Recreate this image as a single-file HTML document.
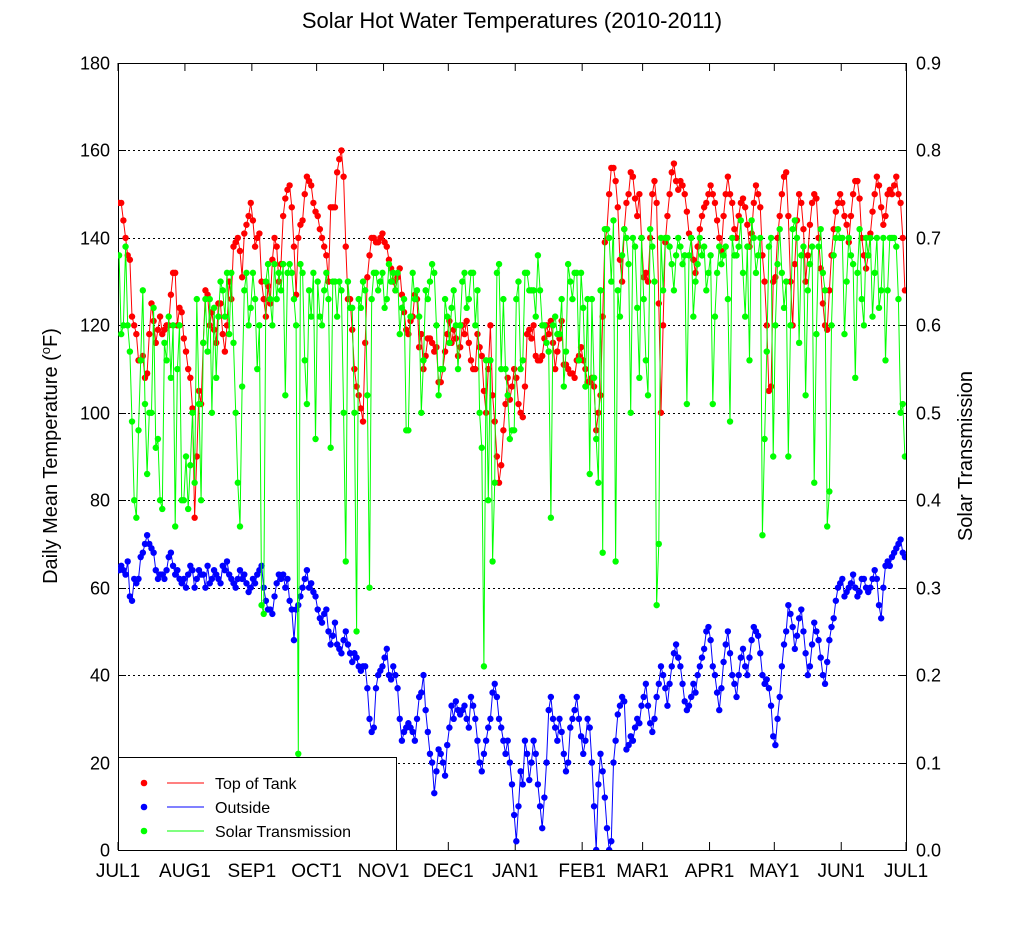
<!DOCTYPE html>
<html><head><meta charset="utf-8"><style>
body{margin:0;background:#fff;}
svg{display:block;font-family:"Liberation Sans",sans-serif;}
</style></head><body>
<svg id="chart" width="1024" height="930" viewBox="0 0 1024 930" xmlns="http://www.w3.org/2000/svg">
<rect width="1024" height="930" fill="#fff"/>
<text x="512" y="28" font-size="22" text-anchor="middle">Solar Hot Water Temperatures (2010-2011)</text>
<g id="grid"></g>
<g id="axes"></g>
<g id="series"></g>
<text transform="translate(57,456) rotate(-90)" font-size="20" text-anchor="middle">Daily Mean Temperature (<tspan font-size="13" dy="-7">o</tspan><tspan dy="7">F)</tspan></text>
<text transform="translate(972,456) rotate(-90)" font-size="20" text-anchor="middle">Solar Transmission</text>
<g>
<rect x="118.5" y="757.5" width="278" height="93" fill="#fff" stroke="#000"/>
<circle cx="144" cy="783" r="3.3" fill="#f00"/><line x1="167" y1="783" x2="204" y2="783" stroke="#f00"/>
<text x="215" y="789" font-size="16">Top of Tank</text>
<circle cx="144" cy="807" r="3.3" fill="#00f"/><line x1="167" y1="807" x2="204" y2="807" stroke="#00f"/>
<text x="215" y="813" font-size="16">Outside</text>
<circle cx="144" cy="831" r="3.3" fill="#0f0"/><line x1="167" y1="831" x2="204" y2="831" stroke="#0f0"/>
<text x="215" y="837" font-size="16">Solar Transmission</text>
</g>
</svg>
<script>
const yTicks=[0,20,40,60,80,100,120,140,160,180];
const y2Ticks=["0.0","0.1","0.2","0.3","0.4","0.5","0.6","0.7","0.8","0.9"];
const monthLabels=["JUL1","AUG1","SEP1","OCT1","NOV1","DEC1","JAN1","FEB1","MAR1","APR1","MAY1","JUN1","JUL1"];
const monthDays=[0,31,62,92,123,153,184,215,243,274,304,335,365];
const tank=[148,148,144,140,136,135,122,120,118,112,112,113,108,109,118,125,121,116,119,122,118,119,120,120,127,132,132,120,124,123,117,
114,110,108,101,76,90,105,102,116,128,127,120,123,119,116,125,125,118,114,120,130,126,138,139,140,137,131,141,143,145,148,
144,138,140,141,130,126,122,129,125,135,140,138,130,134,145,149,151,152,147,138,127,140,143,144,150,154,153,152,148,146,
145,142,140,138,136,130,147,147,147,155,158,160,154,138,126,126,119,110,106,104,101,98,116,131,136,140,140,139,139,140,141,
139,138,135,133,130,128,131,133,127,123,119,118,121,122,127,126,115,118,110,113,117,117,116,114,115,107,107,110,114,118,
121,116,119,117,113,115,120,118,121,116,112,110,110,118,115,113,105,100,110,120,104,98,90,84,88,96,102,108,103,106,110,
108,102,100,99,106,118,119,117,120,113,112,112,113,117,120,118,121,116,110,114,117,121,111,111,110,109,109,108,112,113,115,
112,110,107,107,108,106,96,100,104,122,139,142,150,156,156,153,147,135,130,142,148,150,155,154,149,145,150,140,
131,132,130,140,150,153,148,125,100,120,139,145,150,155,157,153,151,153,152,150,146,141,140,135,132,138,142,145,147,148,150,
152,150,148,144,140,137,145,150,154,150,148,142,140,145,148,149,147,143,138,141,148,152,150,147,136,130,120,105,106,130,
131,140,145,150,154,155,145,130,120,134,144,150,148,142,130,136,143,148,150,149,140,133,125,120,119,128,136,142,146,148,150,
148,145,143,139,145,150,153,153,149,140,136,133,136,141,146,150,154,152,147,143,145,150,151,150,152,154,150,148,140,128];
const outside=[64,65,64,63,66,58,57,62,61,62,67,68,70,72,70,69,68,64,62,63,63,62,64,67,68,65,63,64,62,61,62,
60,63,65,64,60,62,64,63,63,60,65,61,62,64,63,62,61,65,64,66,63,62,61,60,62,64,62,63,61,59,60,
62,61,63,64,65,60,57,55,55,54,58,61,63,62,63,60,62,57,55,48,55,56,58,60,62,64,60,61,59,58,
55,53,52,54,55,50,47,49,52,47,46,45,48,50,47,45,43,45,44,42,41,42,42,37,30,27,28,37,40,41,42,
44,46,40,39,42,40,37,30,25,27,28,29,28,27,25,30,35,36,40,32,27,22,20,13,18,23,22,20,17,24,
28,33,30,34,32,31,32,33,30,28,35,33,30,25,20,18,22,25,28,30,36,38,35,30,28,25,22,25,20,15,8,
2,10,18,15,25,22,16,20,25,22,15,10,5,12,20,32,35,30,28,25,30,27,22,18,20,28,30,32,35,30,26,
22,25,30,28,20,10,0,15,22,18,12,5,0,2,20,25,31,33,35,34,23,24,26,25,28,30,29,33,
35,38,33,29,27,30,35,38,42,40,37,33,38,42,45,47,44,42,38,34,32,33,35,38,36,40,42,44,46,50,51,
48,42,40,36,32,37,43,47,50,45,40,38,35,40,44,46,42,40,44,48,51,50,49,45,40,38,39,37,33,26,
24,30,35,42,47,50,56,54,51,46,49,53,55,50,45,40,42,47,52,50,48,44,40,38,43,48,51,53,57,60,61,
62,58,59,60,61,63,60,58,59,62,62,60,59,60,62,64,62,56,53,60,65,66,65,67,68,69,70,71,68,67];
const solar=[.68,.59,.60,.69,.60,.57,.49,.40,.38,.48,.56,.64,.51,.43,.50,.50,.62,.46,.47,.40,.39,.58,.56,.61,.54,.60,.37,.55,.60,.40,.40,
.45,.39,.44,.50,.42,.63,.51,.40,.58,.63,.57,.63,.50,.62,.54,.61,.65,.64,.61,.66,.59,.66,.58,.50,.42,.37,.53,.64,.66,.60,.62,
.66,.63,.55,.60,.28,.27,.65,.67,.63,.60,.67,.63,.66,.64,.67,.52,.66,.67,.66,.63,.60,.11,.67,.66,.56,.51,.64,.61,.66,.47,
.65,.61,.60,.64,.66,.63,.46,.65,.65,.61,.65,.64,.50,.33,.65,.62,.62,.50,.25,.63,.62,.65,.64,.52,.30,.63,.66,.66,.64,.65,.66,
.62,.63,.67,.65,.66,.64,.66,.59,.62,.63,.48,.48,.61,.66,.63,.64,.61,.50,.56,.64,.63,.65,.67,.66,.60,.52,.55,.55,.63,.61,
.58,.62,.64,.60,.55,.60,.65,.66,.62,.63,.66,.66,.60,.64,.50,.46,.21,.56,.40,.56,.33,.42,.66,.67,.55,.63,.55,.52,.47,.48,.48,
.63,.65,.55,.56,.66,.66,.64,.64,.64,.61,.68,.64,.60,.60,.58,.57,.38,.60,.61,.59,.59,.63,.53,.57,.67,.65,.63,.66,.66,.56,.66,
.62,.53,.63,.43,.63,.54,.47,.42,.64,.34,.71,.71,.70,.65,.72,.33,.64,.61,.68,.71,.70,.67,.50,.70,.69,.62,.54,.70,
.63,.56,.52,.71,.69,.65,.28,.35,.70,.64,.70,.70,.69,.67,.64,.68,.70,.69,.67,.68,.51,.68,.70,.61,.65,.67,.70,.68,.69,.64,.66,
.68,.51,.61,.66,.69,.67,.68,.69,.63,.49,.70,.68,.68,.69,.72,.66,.61,.69,.56,.72,.70,.66,.68,.70,.36,.47,.57,.69,.70,.45,
.60,.67,.71,.66,.62,.65,.45,.60,.71,.72,.70,.58,.68,.69,.52,.64,.67,.69,.42,.59,.69,.71,.66,.64,.37,.41,.60,.68,.70,.71,.70,
.70,.59,.65,.70,.68,.67,.54,.66,.71,.63,.60,.70,.68,.70,.61,.66,.70,.62,.64,.70,.56,.64,.70,.70,.70,.69,.63,.50,.51,.45];

const NS="http://www.w3.org/2000/svg";
const L=118,R=906,T=63,B=850;
function xS(d){return L+(R-L)*d/365;}
function yS(v){return B-(B-T)*v/180;}
function y2S(v){return B-(B-T)*v/0.9;}
function mk(tag,attrs,parent){const e=document.createElementNS(NS,tag);for(const k in attrs)e.setAttribute(k,attrs[k]);parent.appendChild(e);return e;}
const grid=document.getElementById('grid'),axes=document.getElementById('axes'),ser=document.getElementById('series');
yTicks.forEach((v,i)=>{
  const y=Math.round(yS(v))+0.5;
  if(i>0&&i<yTicks.length-1){const g=mk('line',{x1:L,x2:R,y1:y,y2:y,stroke:'#000','stroke-dasharray':'2,3','stroke-width':1},grid);
  
  }
  mk('line',{x1:L,x2:L+8,y1:y,y2:y,stroke:'#000'},axes);
  mk('line',{x1:R-8,x2:R,y1:y,y2:y,stroke:'#000'},axes);
  const t=mk('text',{x:L-8,y:y+6,'font-size':18,'text-anchor':'end'},axes);t.textContent=v;
  
  
  const t2=mk('text',{x:R+10,y:y+6,'font-size':18},axes);t2.textContent=y2Ticks[i];
  
  
});
monthDays.forEach((d,i)=>{
  const x=xS(d);
  mk('line',{x1:x,x2:x,y1:B,y2:B-8,stroke:'#000'},axes);
  mk('line',{x1:x,x2:x,y1:T,y2:T+8,stroke:'#000'},axes);
  const t=mk('text',{x:x,y:B+27,'font-size':19,'text-anchor':'middle'},axes);t.textContent=monthLabels[i];
  
  
});
const frame=mk('rect',{x:L+0.5,y:T+0.5,width:R-L,height:B-T,fill:'none',stroke:'#000'},axes);


function draw(arr,ys,color,name){
  const g=mk('g',{},ser);
  
  
  const pts=arr.map((v,i)=>xS(i+0.5).toFixed(1)+','+ys(v).toFixed(1)).join(' ');
  const clip=mk('clipPath',{id:'c'+name},g);mk('rect',{x:L,y:T,width:R-L,height:B-T},clip);
  const inner=mk('g',{'clip-path':'url(#c'+name+')'},g);
  mk('polyline',{points:pts,fill:'none',stroke:color,'stroke-width':1},inner);
  arr.forEach((v,i)=>{const c=mk('circle',{cx:xS(i+0.5),cy:ys(v),r:3.2,fill:color},inner);
    
    });
}
draw(tank,yS,'#f00','top-of-tank-series');
draw(outside,yS,'#00f','outside-series');
draw(solar,y2S,'#0f0','solar-transmission-series');
</script>
</body></html>
